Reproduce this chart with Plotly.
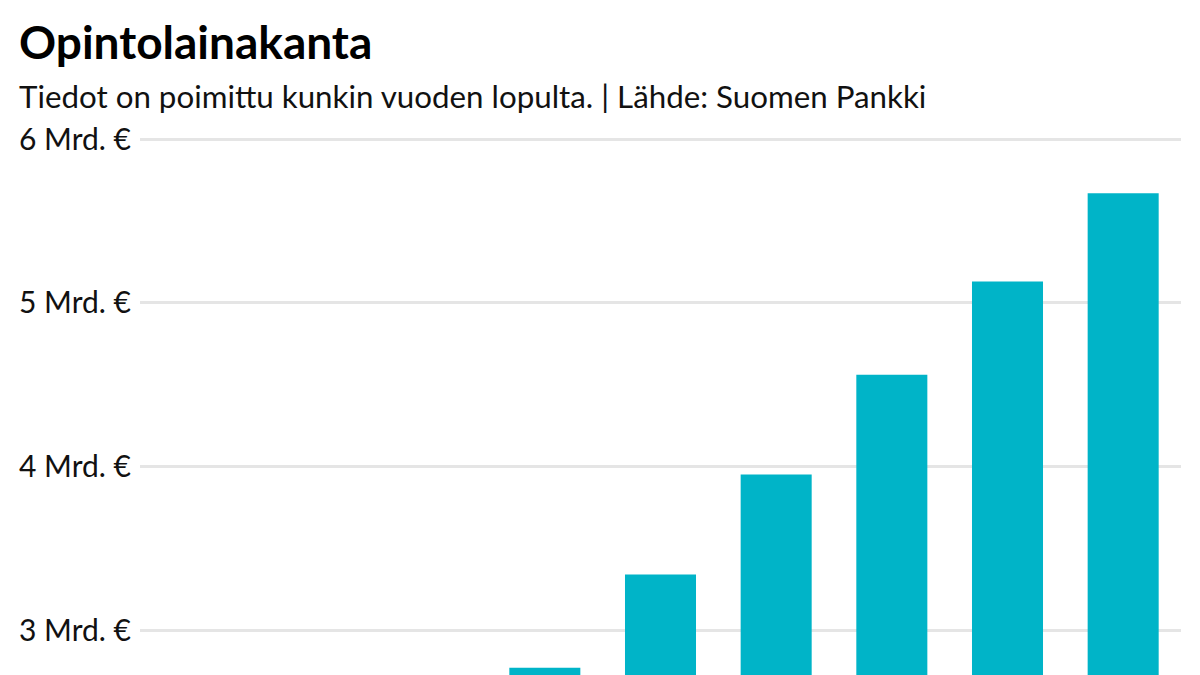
import plotly.graph_objects as go

years = ["2013", "2014", "2015", "2016", "2017", "2018", "2019", "2020", "2021"]
loan_stock = [2.0, 2.2, 2.45, 2.77, 3.34, 3.95, 4.56, 5.13, 5.67]
tick_vals = [3, 4, 5, 6]
tick_text = ["3 Mrd. €", "4 Mrd. €", "5 Mrd. €", "6 Mrd. €"]

title_text = "Opintolainakanta"
subtitle_text = "Tiedot on poimittu kunkin vuoden lopulta. | Lähde: Suomen Pankki"

FONT = "Lato"

fig = go.Figure(
    go.Bar(
        x=years,
        y=loan_stock,
        marker=dict(color="#00b4c8", line=dict(width=0)),
        hoverinfo="x+y",
    )
)

T = 136
PH = 675 - T

fig.update_layout(
    width=1200,
    height=675,
    margin=dict(l=140, r=19, t=T, b=0),
    paper_bgcolor="white",
    plot_bgcolor="white",
    bargap=0.386,
    showlegend=False,
    font=dict(family=FONT, color="#111111"),
    title=dict(
        text="<b>" + title_text + "</b>",
        xref="container", yref="container",
        x=19 / 1200, y=1 - 43 / 675,
        xanchor="left", yanchor="middle",
        font=dict(family=FONT, size=46, color="#000000"),
    ),
    annotations=[
        dict(
            text=subtitle_text,
            xref="paper", yref="paper",
            x=(17 - 140) / 1041, y=(675 - 96) / PH,
            xanchor="left", yanchor="middle",
            showarrow=False,
            font=dict(family=FONT, size=31.3, color="#111111"),
        )
    ],
    xaxis=dict(visible=False),
    yaxis=dict(
        range=[2.725, 6.02],
        tickvals=tick_vals,
        ticktext=tick_text,
        showgrid=True,
        gridcolor="#e5e5e5",
        gridwidth=3,
        zeroline=False,
        showline=False,
        ticks="",
        ticklabelstandoff=8,
        tickfont=dict(family=FONT, size=30, color="#111111"),
        fixedrange=True,
    ),
)

fig.write_html(
    "out.html",
    config={"displayModeBar": False},
    post_script="document.body.style.margin='0';",
)
